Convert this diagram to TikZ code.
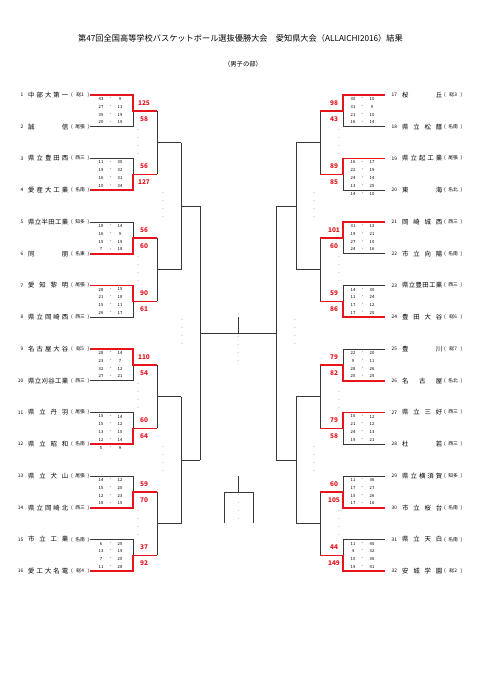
\documentclass[tikz,border=0pt]{standalone}
\usepackage{fontspec}
\setmainfont{Noto Sans CJK JP}
\usetikzlibrary{calc}
\definecolor{wred}{RGB}{232,20,28}
\definecolor{lgray}{RGB}{55,55,55}
\tikzset{
  bl/.style={draw=lgray, line width=0.9pt},
  rd/.style={draw=wred, line width=1.6pt},
  teamname/.style={inner sep=0pt, font=\fontsize{6.4}{7}\selectfont},
  reg/.style={inner sep=0pt, font=\fontsize{4.8}{5}\selectfont},
  num/.style={inner sep=0pt, font=\fontsize{4.8}{5}\selectfont},
  qs/.style={inner sep=0pt, font=\fontsize{4.2}{5}\selectfont},
  rs/.style={inner sep=0pt, text=wred, font=\bfseries\fontsize{6.5}{7}\selectfont},
  dsh/.style={inner sep=0pt, font=\fontsize{4.2}{5}\selectfont, text=black!70},
}
\def\mysprend{}
\def\sprA#1{\ifx#1\mysprend\else\hfil#1\expandafter\sprA\fi}
\def\sprB#1{#1\sprA}
\newcommand\spr[1]{\sprB#1\mysprend}

\newcommand\teamL[3]{%
  \pgfmathsetmacro\ty{95+(#1-1)*31.75}%
  \node[num, anchor=east] (n#1) at (23.5,\ty) {#1};
  \node[teamname, anchor=west] (t#1) at (28,\ty) {\makebox[40pt][s]{\spr{#2}}};
  \node[reg, anchor=west] (g#1) at (71,\ty) {\makebox[18pt][s]{(\hfil #3\hfil)}};
}
\newcommand\teamR[3]{%
  \pgfmathsetmacro\ty{95+(#1-17)*31.75}%
  \node[num, anchor=west] (n#1) at (391.5,\ty) {#1};
  \node[teamname, anchor=west] (t#1) at (402,\ty) {\makebox[40pt][s]{\spr{#2}}};
  \node[reg, anchor=west] (g#1) at (444,\ty) {\makebox[18pt][s]{(\hfil #3\hfil)}};
}
% #1 match, #2 winner (1 top, 2 bottom), #3 top total, #4 bottom total, #5 quarters
\newcommand\LMatch[5]{%
  \pgfmathsetmacro\ya{95+(2*#1-2)*31.75}%
  \pgfmathsetmacro\yb{\ya+31.75}%
  \pgfmathsetmacro\ym{\ya+15.875}%
  \coordinate (LA#1) at (90,\ya); \coordinate (LB#1) at (90,\yb);
  \coordinate (LJA#1) at (133,\ya); \coordinate (LJB#1) at (133,\yb);
  \coordinate (LJM#1) at (133,\ym); \coordinate (LK#1) at (157,\ym);
  \ifnum#2=1
    \draw[bl] (LB#1) -- (LJB#1) -- (LJM#1);
    \draw[rd] (LA#1) -- (LJA#1) -- (LJM#1) -- (LK#1);
  \else
    \draw[bl] (LA#1) -- (LJA#1) -- (LJM#1);
    \draw[rd] (LB#1) -- (LJB#1) -- (LJM#1) -- (LK#1);
  \fi
  \node[rs] (Lra#1) at (144,\ym-8) {#3};
  \node[rs] (Lrb#1) at (144,\ym+8) {#4};
  \foreach \p/\q [count=\k] in {#5} {
    \pgfmathsetmacro\yy{\ya+4+7.8*(\k-1)}
    \node[qs] (Lqa#1-\k) at (101,\yy) {\p};
    \node[qs] (Lqd#1-\k) at (110.5,\yy) {-};
    \node[qs] (Lqb#1-\k) at (120,\yy) {\q};
  }
}
\newcommand\RMatch[5]{%
  \pgfmathsetmacro\ya{95+(2*#1-2)*31.75}%
  \pgfmathsetmacro\yb{\ya+31.75}%
  \pgfmathsetmacro\ym{\ya+15.875}%
  \coordinate (RA#1) at (385,\ya); \coordinate (RB#1) at (385,\yb);
  \coordinate (RJA#1) at (343,\ya); \coordinate (RJB#1) at (343,\yb);
  \coordinate (RJM#1) at (343,\ym); \coordinate (RK#1) at (320,\ym);
  \ifnum#2=1
    \draw[bl] (RB#1) -- (RJB#1) -- (RJM#1);
    \draw[rd] (RA#1) -- (RJA#1) -- (RJM#1) -- (RK#1);
  \else
    \draw[bl] (RA#1) -- (RJA#1) -- (RJM#1);
    \draw[rd] (RB#1) -- (RJB#1) -- (RJM#1) -- (RK#1);
  \fi
  \node[rs] (Rra#1) at (334,\ym-8) {#3};
  \node[rs] (Rrb#1) at (334,\ym+8) {#4};
  \foreach \p/\q [count=\k] in {#5} {
    \pgfmathsetmacro\yy{\ya+4+7.8*(\k-1)}
    \node[qs] (Rqa#1-\k) at (353,\yy) {\p};
    \node[qs] (Rqd#1-\k) at (362.5,\yy) {-};
    \node[qs] (Rqb#1-\k) at (372,\yy) {\q};
  }
}
\newcommand\dashes[3]{%
  \foreach \k in {1,...,4} {
    \node[dsh] (#1-\k) at (#2,#3+8*\k-20) {-};
  }
}

\begin{document}
\begin{tikzpicture}[x=1pt,y=-1pt]
\fill[white] (0,0) rectangle (481,680);
\useasboundingbox (0,0) rectangle (481,680);

\node[inner sep=0pt, font=\fontsize{8.2}{9}\selectfont] (title) at (240.5,38)
  {第47回全国高等学校バスケットボール選抜優勝大会　愛知県大会（ALLAICHI2016）結果};
\node[inner sep=0pt, font=\fontsize{6.3}{7}\selectfont] (sub) at (243,64) {（男子の部）};

% ---- later rounds, left
\coordinate (LQ1) at (157,142.625); \coordinate (LQ1e) at (181,142.625);
\coordinate (LQ2) at (157,269.625); \coordinate (LQ2e) at (181,269.625);
\coordinate (LQ3) at (157,396.625); \coordinate (LQ3e) at (181,396.625);
\coordinate (LQ4) at (157,523.625); \coordinate (LQ4e) at (181,523.625);
\coordinate (LT1) at (181,206.125); \coordinate (LT1e) at (200,206.125);
\coordinate (LT2) at (181,460.125); \coordinate (LT2e) at (200,460.125);
\coordinate (FL) at (200,333.125);
% ---- later rounds, right
\coordinate (RQ1) at (320,142.625); \coordinate (RQ1e) at (296,142.625);
\coordinate (RQ2) at (320,269.625); \coordinate (RQ2e) at (296,269.625);
\coordinate (RQ3) at (320,396.625); \coordinate (RQ3e) at (296,396.625);
\coordinate (RQ4) at (320,523.625); \coordinate (RQ4e) at (296,523.625);
\coordinate (RT1) at (296,206.125); \coordinate (RT1e) at (276,206.125);
\coordinate (RT2) at (296,460.125); \coordinate (RT2e) at (276,460.125);
\coordinate (FR) at (276,333.125);
\coordinate (CH) at (238.3,333.125); \coordinate (CHt) at (238.3,317);
% third place
\coordinate (TPa) at (224,523); \coordinate (TPb) at (224,492);
\coordinate (TPc) at (253,492); \coordinate (TPd) at (253,523);
\coordinate (TPm) at (238.5,492); \coordinate (TPt) at (238.5,476);

\draw[bl] (LQ1) -- (LQ1e); \draw[bl] (LQ2) -- (LQ2e);
\draw[bl] (LQ3) -- (LQ3e); \draw[bl] (LQ4) -- (LQ4e);
\draw[bl] (LQ1e) -- (LQ2e); \draw[bl] (LQ3e) -- (LQ4e);
\draw[bl] (LT1) -- (LT1e); \draw[bl] (LT2) -- (LT2e);
\draw[bl] (LT1e) -- (LT2e);
\draw[bl] (RQ1) -- (RQ1e); \draw[bl] (RQ2) -- (RQ2e);
\draw[bl] (RQ3) -- (RQ3e); \draw[bl] (RQ4) -- (RQ4e);
\draw[bl] (RQ1e) -- (RQ2e); \draw[bl] (RQ3e) -- (RQ4e);
\draw[bl] (RT1) -- (RT1e); \draw[bl] (RT2) -- (RT2e);
\draw[bl] (RT1e) -- (RT2e);
\draw[bl] (FL) -- (FR);
\draw[bl] (CH) -- (CHt);
\draw[bl] (TPa) -- (TPb) -- (TPc) -- (TPd);
\draw[bl] (TPm) -- (TPt);

% second round verticals
\coordinate (LK1) at (157,110.875); \coordinate (LK2) at (157,174.375);
\coordinate (LK3) at (157,237.875); \coordinate (LK4) at (157,301.375);
\coordinate (LK5) at (157,364.875); \coordinate (LK6) at (157,428.375);
\coordinate (LK7) at (157,491.875); \coordinate (LK8) at (157,555.375);
\coordinate (RK1) at (320,110.875); \coordinate (RK2) at (320,174.375);
\coordinate (RK3) at (320,237.875); \coordinate (RK4) at (320,301.375);
\coordinate (RK5) at (320,364.875); \coordinate (RK6) at (320,428.375);
\coordinate (RK7) at (320,491.875); \coordinate (RK8) at (320,555.375);
\draw[bl] (LK1) -- (LK2); \draw[bl] (LK3) -- (LK4);
\draw[bl] (LK5) -- (LK6); \draw[bl] (LK7) -- (LK8);
\draw[bl] (RK1) -- (RK2); \draw[bl] (RK3) -- (RK4);
\draw[bl] (RK5) -- (RK6); \draw[bl] (RK7) -- (RK8);

% pending score dashes
\dashes{dl1}{138}{142.625} \dashes{dl2}{138}{269.625}
\dashes{dl3}{138}{396.625} \dashes{dl4}{138}{523.625}
\dashes{dl5}{163}{206.125} \dashes{dl6}{163}{460.125}
\dashes{dl7}{182}{333.125}
\dashes{dr1}{339}{142.625} \dashes{dr2}{339}{269.625}
\dashes{dr3}{339}{396.625} \dashes{dr4}{339}{523.625}
\dashes{dr5}{314}{206.125} \dashes{dr6}{314}{460.125}
\dashes{dr7}{295}{333.125}
\dashes{dfin}{238.3}{350}
\dashes{dtp}{238.5}{507.5}

% teams
\teamL{1}{中部大第一}{総1}
\teamL{2}{誠信}{尾張}
\teamL{3}{県立豊田西}{西三}
\teamL{4}{愛産大工業}{名南}
\teamL{5}{県立半田工業}{知多}
\teamL{6}{同朋}{名東}
\teamL{7}{愛知黎明}{尾張}
\teamL{8}{県立岡崎西}{西三}
\teamL{9}{名古屋大谷}{総5}
\teamL{10}{県立刈谷工業}{西三}
\teamL{11}{県立丹羽}{尾張}
\teamL{12}{県立昭和}{名南}
\teamL{13}{県立犬山}{尾張}
\teamL{14}{県立岡崎北}{西三}
\teamL{15}{市立工業}{名南}
\teamL{16}{愛工大名電}{総4}
\teamR{17}{桜丘}{総3}
\teamR{18}{県立松蔭}{名南}
\teamR{19}{県立起工業}{尾張}
\teamR{20}{東海}{名北}
\teamR{21}{岡崎城西}{西三}
\teamR{22}{市立向陽}{名南}
\teamR{23}{県立豊田工業}{西三}
\teamR{24}{豊田大谷}{総6}
\teamR{25}{豊川}{総7}
\teamR{26}{名古屋}{名北}
\teamR{27}{県立三好}{西三}
\teamR{28}{杜若}{西三}
\teamR{29}{県立横須賀}{知多}
\teamR{30}{市立桜台}{名南}
\teamR{31}{県立天白}{名南}
\teamR{32}{安城学園}{総2}

% first round
\LMatch{1}{1}{125}{58}{43/9,27/11,35/19,20/19}
\LMatch{2}{2}{56}{127}{11/30,19/32,16/31,10/34}
\LMatch{3}{2}{56}{60}{18/14,16/9,15/19,7/18}
\LMatch{4}{1}{90}{61}{28/15,21/18,15/11,26/17}
\LMatch{5}{1}{110}{54}{28/14,23/7,32/12,27/21}
\LMatch{6}{2}{60}{64}{15/14,15/12,13/15,12/14,5/9}
\LMatch{7}{2}{59}{70}{14/12,15/20,12/23,18/15}
\LMatch{8}{2}{37}{92}{6/25,13/19,7/20,11/28}
\RMatch{1}{1}{98}{43}{30/10,31/9,21/10,16/14}
\RMatch{2}{1}{89}{85}{16/17,22/19,24/14,13/25,14/10}
\RMatch{3}{1}{101}{60}{31/13,19/21,27/10,24/16}
\RMatch{4}{2}{59}{86}{14/30,11/24,17/12,17/20}
\RMatch{5}{2}{79}{82}{22/20,9/11,28/26,20/25}
\RMatch{6}{1}{79}{58}{15/12,21/12,24/13,19/21}
\RMatch{7}{2}{60}{105}{11/36,17/27,15/26,17/16}
\RMatch{8}{2}{44}{149}{11/40,4/32,10/36,19/41}
\end{tikzpicture}
\end{document}
